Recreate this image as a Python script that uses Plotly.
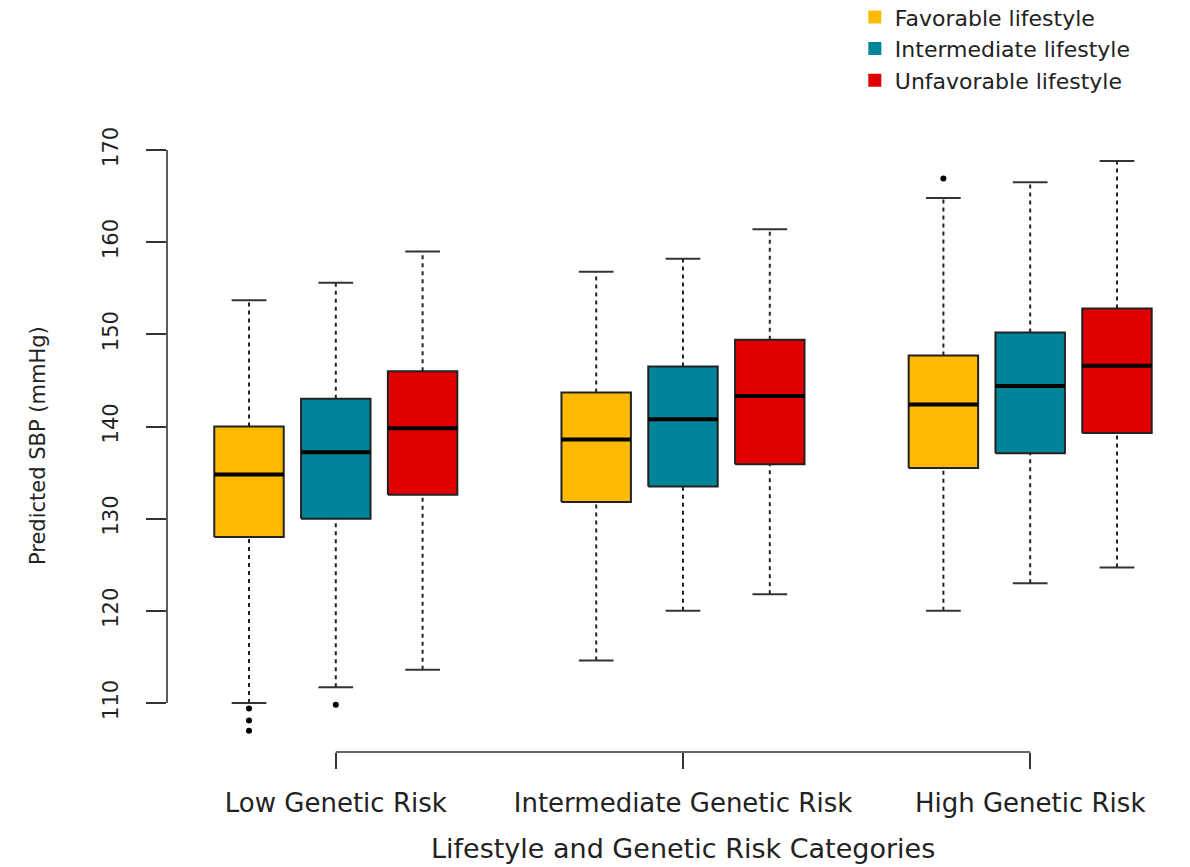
import plotly.graph_objects as go

# ---------------- data ----------------
groups = ["Low Genetic Risk", "Intermediate Genetic Risk", "High Genetic Risk"]
lifestyles = ["Favorable lifestyle", "Intermediate lifestyle", "Unfavorable lifestyle"]
colors = ["#FDBA00", "#00849A", "#E00000"]

# order: (Low: Fav, Int, Unf), (Intermediate: Fav, Int, Unf), (High: Fav, Int, Unf)
whisker_low = [110.0, 111.7, 113.6, 114.6, 120.0, 121.8, 120.0, 123.0, 124.7]
q1 = [128.0, 130.0, 132.6, 131.8, 133.5, 135.9, 135.5, 137.1, 139.3]
median = [134.8, 137.2, 139.8, 138.6, 140.8, 143.3, 142.4, 144.4, 146.6]
q3 = [140.0, 143.0, 146.0, 143.7, 146.5, 149.4, 147.7, 150.2, 152.8]
whisker_high = [153.7, 155.6, 159.0, 156.8, 158.2, 161.4, 164.8, 166.5, 168.8]
outliers = [[109.4, 108.1, 107.0], [109.8], [], [], [], [], [166.9], [], []]

y_ticks = [110, 120, 130, 140, 150, 160, 170]

# ---------------- figure ----------------
BOX_W = 0.8
STAPLE_W = 0.4
EDGE = "#222222"

fig = go.Figure()
positions = []
for g in range(len(groups)):
    for k in range(len(lifestyles)):
        positions.append(1 + 4 * g + k)

for i, p in enumerate(positions):
    k = i % 3
    col = colors[k]
    # dashed whiskers
    fig.add_trace(go.Scatter(
        x=[p, p, None, p, p],
        y=[whisker_low[i], q1[i], None, q3[i], whisker_high[i]],
        mode="lines", line=dict(color=EDGE, width=2, dash="4px,4px"),
        showlegend=False, hoverinfo="skip", cliponaxis=False))
    # staples
    fig.add_trace(go.Scatter(
        x=[p - STAPLE_W / 2, p + STAPLE_W / 2, None, p - STAPLE_W / 2, p + STAPLE_W / 2],
        y=[whisker_low[i], whisker_low[i], None, whisker_high[i], whisker_high[i]],
        mode="lines", line=dict(color="#333333", width=2),
        showlegend=False, hoverinfo="skip", cliponaxis=False))
    # box
    fig.add_trace(go.Scatter(
        x=[p - BOX_W / 2, p + BOX_W / 2, p + BOX_W / 2, p - BOX_W / 2, p - BOX_W / 2],
        y=[q1[i], q1[i], q3[i], q3[i], q1[i]],
        mode="lines", fill="toself", fillcolor=col,
        line=dict(color=EDGE, width=2),
        showlegend=False, hoverinfo="skip"))
    # median
    fig.add_trace(go.Scatter(
        x=[p - BOX_W / 2, p + BOX_W / 2], y=[median[i], median[i]],
        mode="lines", line=dict(color="#000000", width=4),
        showlegend=False, hoverinfo="skip"))
    # outliers
    if outliers[i]:
        fig.add_trace(go.Scatter(
            x=[p] * len(outliers[i]), y=outliers[i], mode="markers",
            marker=dict(color="#000000", size=6),
            showlegend=False, hoverinfo="skip", cliponaxis=False))

# legend entries
for k, name in enumerate(lifestyles):
    fig.add_trace(go.Scatter(
        x=[None], y=[None], mode="markers", name=name,
        marker=dict(symbol="square", size=13, color=colors[k])))

group_centers = [positions[3 * g + 1] for g in range(len(groups))]

fig.update_layout(
    width=1190, height=867,
    margin=dict(l=167, r=10, t=140, b=115, autoexpand=False),
    plot_bgcolor="white", paper_bgcolor="white",
    font=dict(family="DejaVu Sans", color="#222222"),
    xaxis=dict(
        range=[0.0553, 11.726], tickmode="array", tickvals=group_centers,
        ticktext=groups, ticks="outside", ticklen=16, tickwidth=1.6,
        tickcolor="#333333", showline=False, showgrid=False, zeroline=False,
        tickfont=dict(size=26, color="#222222"), ticklabelstandoff=12,
        automargin=False),
    yaxis=dict(
        range=[104.684, 171.085], tickmode="array", tickvals=y_ticks,
        ticks="outside", ticklen=20, tickwidth=1.6, tickcolor="#333333",
        tickangle=-90, tickfont=dict(size=21, color="#222222"),
        ticklabelstandoff=20, automargin=False,
        showline=False, showgrid=False, zeroline=False),
    legend=dict(
        x=0.679, xanchor="left", y=1.235, yanchor="top",
        font=dict(size=22, color="#222222"), bgcolor="rgba(0,0,0,0)",
        borderwidth=0, tracegroupgap=0),
    shapes=[
        dict(type="line", xref="paper", x0=0, x1=0, yref="y",
             y0=min(y_ticks), y1=max(y_ticks),
             line=dict(color="#333333", width=1.6)),
        dict(type="line", xref="x", x0=min(group_centers), x1=max(group_centers),
             yref="paper", y0=0, y1=0, line=dict(color="#333333", width=1.6)),
    ],
    annotations=[
        dict(text="Lifestyle and Genetic Risk Categories", xref="x",
             x=sum(group_centers) / len(group_centers), yref="paper",
             y=-0.157, xanchor="center", yanchor="middle", showarrow=False,
             font=dict(size=27, color="#222222")),
        dict(text="Predicted SBP (mmHg)", xref="paper", x=-0.1273,
             yref="paper", y=0.5, xanchor="center", yanchor="middle",
             textangle=-90, showarrow=False,
             font=dict(size=21, color="#222222")),
    ],
)

fig.write_html("out.html")
